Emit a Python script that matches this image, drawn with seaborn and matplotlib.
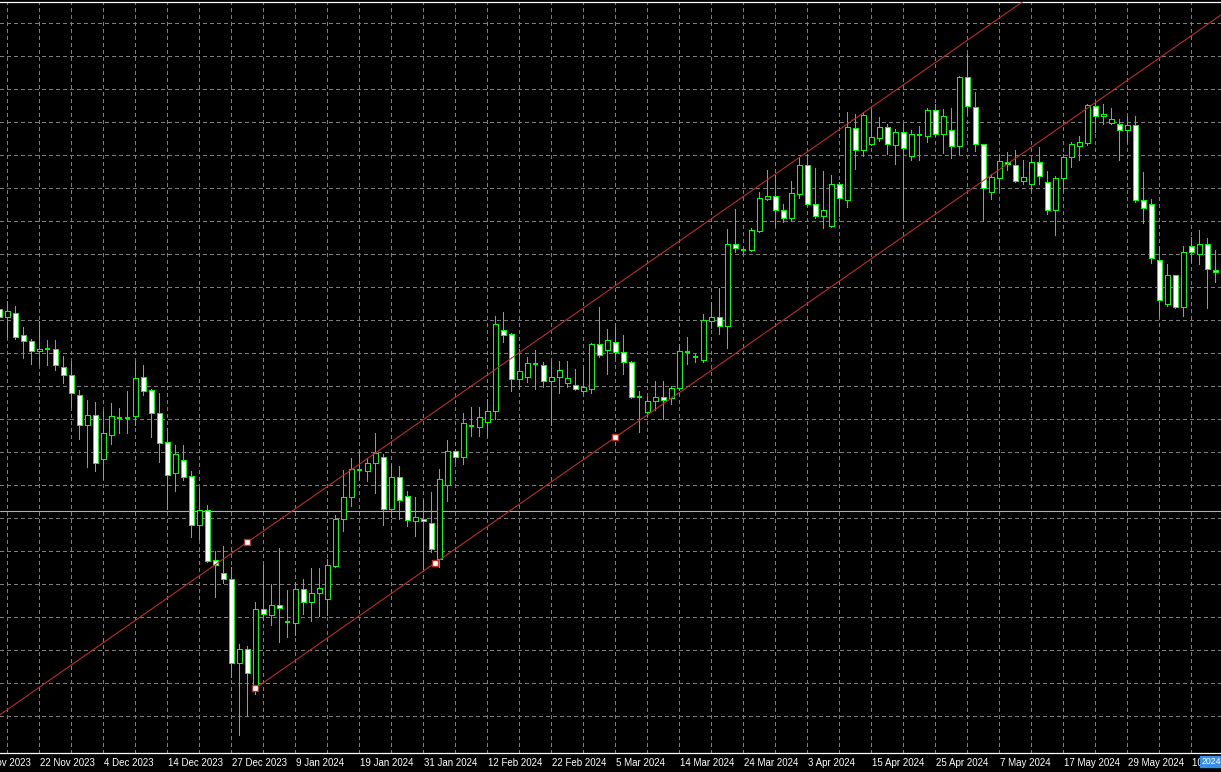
import numpy as np
import pandas as pd
import matplotlib
matplotlib.use('Agg')
import matplotlib.pyplot as plt
import matplotlib.transforms as mtransforms
from matplotlib.patches import Rectangle
import seaborn as sns

# Daily candles (no price scale is visible, so prices are in chart points)
opens = [444, 435.7, 440.3, 418.3, 412, 402.3, 404, 404.3, 386.3, 377.7,
         358.3, 327.7, 337.7, 294.3, 318.3, 335, 335, 337, 375.7, 363,
         339.7, 311, 279.7, 293, 277, 228.3, 243, 193, 179.7, 173.7,
         90.3, 103.7, 65, 143.7, 138.3, 147.7, 131, 130.3, 163.7, 151,
         159.7, 154.3, 187, 233.7, 255.7, 283, 281.7, 290.3, 295.7, 243.7,
         275.7, 257, 231.7, 234.3, 229.7, 194.3, 267.7, 302.3, 296.3, 327,
         325.7, 331, 341.7, 423, 419, 374.3, 376.3, 389, 388.3, 371.7,
         375.7, 369.7, 367.7, 361.7, 363.7, 409, 402.7, 411.3, 400.7, 390.7,
         356, 341.3, 352, 356, 354.7, 364.7, 401.3, 396, 392.7, 432,
         436, 426.7, 508.7, 502.7, 502.7, 522, 554, 556.7, 542.7, 535.3,
         559.3, 588, 548.7, 537.3, 527.3, 568.7, 553.3, 624.7, 603.3, 609.3,
         615.3, 626, 608, 620.7, 597.3, 618, 617.3, 642.7, 618.7, 623.3,
         607.3, 676, 646, 608.7, 560.7, 574.7, 591.3, 588, 572, 569.3,
         590.7, 570.7, 543.3, 574.7, 596, 607.3, 610, 646.7, 636.7, 630,
         628.7, 622.7, 628, 552.7, 549.3, 493.3, 449.3, 478, 446, 506.7,
         499.3, 508.7, 483.3]
highs = [448, 451.7, 447, 425.7, 414, 432.3, 413, 413, 397, 391,
         363, 353, 351, 342.3, 349.7, 345, 361.7, 391, 387.7, 364.3,
         360.3, 325, 308.3, 308.3, 281.7, 265, 247.7, 202, 207, 186.5,
         109, 107, 151.3, 187.7, 168.7, 204.8, 163, 171, 174, 185,
         185, 193.7, 237.7, 283, 295, 302.3, 294.3, 320.3, 299, 287.7,
         287, 261.7, 255.7, 253, 261, 283.7, 313, 304.3, 339.7, 346.3,
         346.3, 354.3, 437, 441, 419.7, 404.3, 396.3, 403, 391, 391.7,
         391.7, 391.7, 383.7, 386.3, 410.3, 445.7, 424, 426.7, 418, 392,
         362, 356, 372, 372, 367.3, 408.7, 416, 399.3, 439.3, 450.7,
         465.3, 524, 544, 505.3, 525.3, 561.3, 582.7, 578, 548.7, 572,
         596, 599.3, 584.7, 582, 578, 570.7, 640.7, 639.3, 640.7, 643.3,
         636, 629.3, 624, 629.3, 623.3, 626.7, 645.3, 648.7, 644, 644.7,
         677.3, 698.7, 660.7, 609.5, 579.3, 599.3, 600.7, 602.7, 592.7, 594.7,
         606, 582, 576.7, 599.3, 610.7, 617.3, 649.3, 650.7, 648.7, 644.7,
         634, 637.3, 636.7, 581.3, 554, 506.7, 488.7, 478.5, 506.7, 516,
         522.7, 514.7, 502.7]
lows = [433, 416.3, 414.3, 395, 389, 389, 388.3, 383, 370.3, 345.7,
        314.3, 286.3, 282.3, 273.7, 309, 320.3, 320.3, 328.3, 358.3, 315.7,
        291, 244.3, 262.3, 273, 216.3, 214.3, 191, 156.3, 169.7, 76.3,
        18, 37, 59, 134.3, 128.3, 111.5, 116, 118, 139, 132.3,
        137, 138.3, 186.3, 222.3, 247, 273, 272.3, 260.3, 227.7, 236.3,
        233.7, 227, 217, 184.3, 201, 186.3, 252.3, 291, 289, 317,
        317, 317, 333.7, 411, 362.3, 364.3, 371, 364.3, 365.7, 328.3,
        360.3, 365.7, 363, 359.7, 359.7, 395.7, 379.3, 394.7, 378.7, 354.7,
        321.3, 337.3, 342.7, 334, 349.3, 362.7, 389.3, 391.3, 391.3, 424.7,
        419.3, 404.7, 501.3, 500, 502, 521.3, 552.7, 527.3, 531.3, 532,
        554.7, 548, 534.7, 525.3, 526.5, 537.3, 546, 584, 597.3, 608.5,
        612, 599.3, 589.3, 532.7, 593.3, 593.3, 611.3, 616.7, 600, 594.7,
        599.3, 638.7, 602, 532, 554, 562.7, 583.3, 571.3, 569.3, 562.7,
        569.3, 538.7, 518, 562.7, 586, 592.7, 608, 621.3, 629.3, 628.7,
        592.7, 610.7, 551.3, 530, 490, 437.3, 447.3, 445.3, 437.3, 490.7,
        488.7, 445.3, 471.3]
closes = [436, 441.7, 415.7, 412.3, 402.3, 404.3, 404, 387.7, 377.7, 360.3,
          327.7, 337.7, 290.3, 319.7, 337, 335, 335, 375, 362.3, 339.7,
          310.3, 278.3, 299, 276.3, 228.3, 243, 192.3, 188.3, 173.7, 89.7,
          103.7, 79.7, 144.5, 139, 147.7, 144.7, 131, 164.5, 151.5, 159.7,
          165, 187.7, 234.3, 255.7, 283.7, 283, 290.3, 299.7, 243.7, 275.7,
          253, 233, 235.7, 231.7, 204.3, 273.7, 302.3, 295.7, 330.3, 327,
          335.7, 341.7, 429, 418.3, 374.3, 381.7, 389.7, 389, 371.7, 375.7,
          383, 375, 363.7, 366.3, 409, 398.3, 412.7, 400.7, 390.7, 356,
          356, 352, 356, 353.3, 365.3, 402, 401.3, 396, 432.7, 436,
          426.7, 508.7, 504.7, 502.7, 522.7, 554.7, 556.7, 542.7, 534.7, 560,
          588, 549.3, 537.3, 542.7, 568.7, 554.7, 626, 603.3, 638, 616,
          626, 609.3, 620.7, 604.7, 618.7, 618, 642.7, 619.3, 636.7, 606.7,
          676, 646.7, 608.7, 564.7, 576, 592, 588.7, 572, 576, 590.7,
          576.7, 543.3, 574.7, 596, 609.3, 611.3, 648, 636.7, 638.7, 634,
          622.7, 628, 552.7, 544.7, 495.3, 452.7, 478, 446, 500.7, 500.7,
          509.3, 484, 480.7]

# bar index of each date label on the time axis
date_idx = [5, 13, 21, 29, 37, 45, 53, 61, 69, 77,
            85, 93, 101, 109, 117, 125, 133, 141, 149]
date_labels = ['22 Nov 2023', '4 Dec 2023', '14 Dec 2023', '27 Dec 2023',
               '9 Jan 2024', '19 Jan 2024', '31 Jan 2024', '12 Feb 2024',
               '22 Feb 2024', '5 Mar 2024', '14 Mar 2024', '24 Mar 2024',
               '3 Apr 2024', '15 Apr 2024', '25 Apr 2024', '7 May 2024',
               '17 May 2024', '29 May 2024', '10 Jun 2024']
first_label_idx = -3
first_label = '12 Nov 2023'

# equidistant channel: two anchors on the lower line, one on the upper line
chan_idx = [32, 77]
chan_price = [64.7, 315.7]
upper_idx = 31
upper_price = 210.7
bid_price = 242.0

df = pd.DataFrame({'open': opens, 'high': highs, 'low': lows, 'close': closes})
df['x'] = np.arange(len(df))

GREEN = '#00ff00'
RED = '#b8312a'
GRID = '#7c7c7c'
DASH = (0, (3, 3))

sns.set_style('dark', rc={'axes.facecolor': 'black', 'figure.facecolor': 'black',
                          'axes.edgecolor': 'white', 'grid.color': GRID})
plt.rcParams['font.family'] = ['Liberation Sans', 'DejaVu Sans']

fig = plt.figure(figsize=(12.21, 7.72), dpi=100)
ax = fig.add_axes([0, 19 / 772, 1, 751 / 772])
ax.set_xlim(0.083, 152.71)
ax.set_ylim(0, 751)

# grid
ax.set_xticks(date_idx)
ax.set_xticklabels(date_labels)
ax.set_xticks(np.arange(1, 153, 4), minor=True)
ax.set_yticks(np.arange(36.7, 740, 33))
ax.grid(True, which='both', axis='x', color=GRID, linestyle=DASH, lw=0.72, antialiased=False)
ax.grid(True, which='major', axis='y', color=GRID, linestyle=DASH, lw=0.72, antialiased=False)
ax.set_axisbelow(True)
ax.tick_params(axis='y', length=0, labelleft=False)
ax.tick_params(axis='x', which='major', length=2.5, width=0.72, color='white', direction='out',
               pad=1, labelcolor='white', labelsize=7)
ax.tick_params(axis='x', which='minor', length=0)
offset = mtransforms.ScaledTranslation(1 / 100, 0, fig.dpi_scale_trans)
for lbl in ax.get_xticklabels():
    lbl.set_horizontalalignment('left')
    lbl.set_transform(lbl.get_transform() + offset)

for side in ['left', 'right']:
    ax.spines[side].set_visible(False)
for side in ['top', 'bottom']:
    ax.spines[side].set_visible(True)
    ax.spines[side].set_color('white')
    ax.spines[side].set_linewidth(0.9)

# bid line
ax.axhline(bid_price, color='#b0b0b0', lw=0.8, zorder=1.5)

# candles
ax.vlines(df['x'], df['low'], df['high'], color=GREEN, lw=0.72, zorder=2, antialiased=False)
up = df[df['close'] > df['open']]
down = df[df['close'] < df['open']]
flat = df[df['close'] == df['open']]
ax.bar(up['x'], up['close'] - up['open'], bottom=up['open'], width=0.56,
       color='black', edgecolor=GREEN, lw=0.55, zorder=3, antialiased=False)
ax.bar(down['x'], down['open'] - down['close'], bottom=down['close'], width=0.56,
       color='white', edgecolor=GREEN, lw=0.55, zorder=3, antialiased=False)
ax.hlines(flat['open'], flat['x'] - 0.3, flat['x'] + 0.3, color=GREEN, lw=1.4, zorder=3)

# channel lines
slope = (chan_price[1] - chan_price[0]) / (chan_idx[1] - chan_idx[0])
x_end = 160
sns.lineplot(x=[chan_idx[0], x_end], y=[chan_price[0], chan_price[0] + slope * (x_end - chan_idx[0])],
             ax=ax, color=RED, lw=0.8, zorder=4)
sns.lineplot(x=[-5, x_end], y=[upper_price + slope * (-5 - upper_idx), upper_price + slope * (x_end - upper_idx)],
             ax=ax, color=RED, lw=0.8, zorder=4)
mid_idx = (chan_idx[0] + chan_idx[1]) / 2
anchor_x = [chan_idx[0], mid_idx, chan_idx[1], upper_idx]
anchor_y = [chan_price[0], chan_price[0] + slope * (mid_idx - chan_idx[0]), chan_price[1], upper_price]
ax.plot(anchor_x, anchor_y, linestyle='none', marker='s', ms=4, mfc='white', mec=RED, mew=1, zorder=5)

# cut-off first date label
trans = mtransforms.blended_transform_factory(ax.transData, ax.transAxes)
ax.text(first_label_idx, 0, first_label, color='white', fontsize=7, ha='left', va='top',
        transform=trans + mtransforms.ScaledTranslation(1 / 100, -3.5 / 72, fig.dpi_scale_trans))

# highlighted date box at the right end of the time axis
fig.patches.append(Rectangle((1200 / 1221, 5 / 772), 21 / 1221, 11 / 772,
                             transform=fig.transFigure, color='#3a8ee6', zorder=5))
fig.text(1201.5 / 1221, 10.5 / 772, '2024', color='white', fontsize=6.3, va='center', zorder=6)

fig.savefig('out.png', dpi=100, facecolor='black')
